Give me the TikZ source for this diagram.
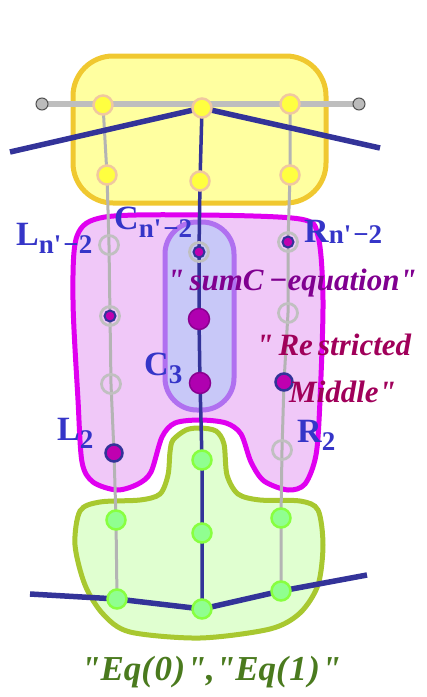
\documentclass[tikz,border=0pt]{standalone}
\usepackage{fontspec}
\setmainfont{Liberation Serif}
\newfontfamily\lserif{Liberation Serif}
\pgfdeclarelayer{blobs}
\pgfdeclarelayer{lines}
\pgfsetlayers{blobs,lines,main}
\definecolor{yelfill}{HTML}{FFFFA0}
\definecolor{yeledge}{HTML}{F0C830}
\definecolor{magfill}{HTML}{F0C8F8}
\definecolor{magedge}{HTML}{E000F0}
\definecolor{pillfill}{HTML}{C8C8F8}
\definecolor{pilledge}{HTML}{B070F0}
\definecolor{grnfill}{HTML}{E0FFD0}
\definecolor{grnedge}{HTML}{A8C830}
\definecolor{navy}{HTML}{333399}
\definecolor{lgray}{HTML}{B4B4B4}
\definecolor{bargray}{HTML}{BEBEBE}
\definecolor{lblblue}{HTML}{3535C8}
\definecolor{sumpurple}{HTML}{800090}
\definecolor{restred}{HTML}{A0005A}
\definecolor{eqgreen}{HTML}{4A7A1E}
\tikzset{
  blobY/.style={draw=yeledge, fill=yelfill, line width=5pt},
  blobM/.style={draw=magedge, fill=magfill, line width=5pt},
  blobP/.style={draw=pilledge, fill=pillfill, line width=5pt},
  blobG/.style={draw=grnedge, fill=grnfill, line width=5pt},
  graybar/.style={draw=bargray, line width=6pt},
  grayline/.style={draw=lgray, line width=3pt},
  blueline/.style={draw=navy, line width=5.5pt},
  bluethin/.style={draw=navy, line width=3.5pt},
  yel/.style={circle, inner sep=0pt, minimum size=19pt, fill={rgb,255:red,255;green,255;blue,64}, draw={rgb,255:red,240;green,200;blue,160}, line width=2.5pt},
  grn/.style={circle, inner sep=0pt, minimum size=19pt, fill={rgb,255:red,144;green,255;blue,144}, draw={rgb,255:red,136;green,255;blue,64}, line width=2.5pt},
  ring/.style={circle, inner sep=0pt, minimum size=19pt, draw={rgb,255:red,192;green,192;blue,192}, line width=2.8pt},
  mdot/.style={circle, inner sep=0pt, minimum size=11pt, fill={rgb,255:red,192;green,0;blue,176}, draw=navy, line width=2pt},
  mdotb/.style={circle, inner sep=0pt, minimum size=17pt, fill={rgb,255:red,192;green,0;blue,176}, draw=navy, line width=2.5pt},
  mbig/.style={circle, inner sep=0pt, minimum size=21pt, fill={rgb,255:red,176;green,0;blue,176}, draw={rgb,255:red,138;green,0;blue,144}, line width=1.5pt},
  endc/.style={circle, inner sep=0pt, minimum size=12pt, fill={rgb,255:red,187;green,187;blue,187}, draw={rgb,255:red,80;green,80;blue,80}, line width=1pt},
  lbl/.style={text=lblblue, font=\lserif\bfseries, inner sep=0pt, anchor=base west},
  quote/.style={font=\lserif\bfseries\itshape\fontsize{31}{33}\selectfont, inner sep=0pt, anchor=base west}
}
\newcommand{\mainlet}[1]{{\fontsize{34}{34}\selectfont #1}}
\newcommand{\sublet}[2][-8pt]{\raisebox{#1}{\fontsize{27}{27}\selectfont #2}}
\begin{document}
\begin{tikzpicture}[x=1pt,y=-1pt]
\useasboundingbox (0,0) rectangle (427,697);
% ---- nodes ----
\node[endc] (e1) at (42,104) {};
\node[endc] (e2) at (359,104) {};
\node[yel] (y1) at (103,105) {};
\node[yel] (y2) at (202,108) {};
\node[yel] (y3) at (290,104) {};
\node[yel] (y4) at (107,175) {};
\node[yel] (y5) at (200,181) {};
\node[yel] (y6) at (290,175) {};
% left column
\node[ring] (l1) at (109,245) {};
\node[ring] (l2) at (110,316) {};
\node[mdot] (l2d) at (110,316) {};
\node[ring] (l3) at (111,384) {};
\node[mdotb] (l4) at (114,453) {};
% center column
\node[ring] (c1) at (199,252) {};
\node[mdot] (c1d) at (199,252) {};
\node[mbig] (c2) at (199,319) {};
\node[mbig] (c3) at (200,383) {};
% right column
\node[ring] (r1) at (288,242) {};
\node[mdot] (r1d) at (288,242) {};
\node[ring] (r2) at (288,313) {};
\node[mdotb] (r3) at (284,382) {};
\node[ring] (r4) at (282,450) {};
% green
\node[grn] (g1) at (202,460) {};
\node[grn] (g2) at (116,520) {};
\node[grn] (g3) at (202,533) {};
\node[grn] (g4) at (281,518) {};
\node[grn] (g5) at (117,599) {};
\node[grn] (g6) at (202,609) {};
\node[grn] (g7) at (281,591) {};
\coordinate (tl) at (10,152);
\coordinate (tr) at (380,148);
\coordinate (bl) at (30,594);
\coordinate (br) at (367,575);
% ---- blobs ----
\begin{pgfonlayer}{blobs}
\draw[blobY, rounded corners=40pt] (73,56) rectangle (326,203);
\draw[blobM] plot[smooth cycle, tension=0.5] coordinates {(77,236) (105,217) (200,215) (300,219) (318,236) (323,300) (320,400) (316,455) (305,484) (288,490) (264,481) (251,462) (241,434) (226,423) (200,420) (175,423) (162,437) (151,472) (138,484) (117,490) (93,482) (82,462) (78,400) (73,300)};
\draw[blobP, rounded corners=32pt] (165,222) rectangle (234,410);
\draw[blobG] plot[smooth cycle, tension=0.5] coordinates {(173,440) (186,430) (200,428) (216,431) (224,444) (227,475) (238,494) (260,500) (300,501) (318,510) (323,545) (318,585) (300,613) (270,629) (200,638) (130,632) (103,614) (85,585) (75,545) (80,511) (100,502) (140,500) (160,494) (168,475) (170,452)};
\end{pgfonlayer}
% ---- lines ----
\begin{pgfonlayer}{lines}
\draw[graybar] (e1.center) -- (e2.center);
\draw[grayline] (y1.center) -- (y4.center) -- (l1.center) -- (l2.center) -- (l3.center) -- (l4.center) -- (g2.center) -- (g5.center);
\draw[grayline] (y3.center) -- (y6.center) -- (r1.center) -- (r2.center) -- (r3.center) -- (r4.center) -- (g4.center) -- (g7.center);
\draw[blueline] (tl) -- (y2.center) -- (tr);
\draw[bluethin] (y2.center) -- (y5.center) -- (c1.center) -- (c2.center) -- (c3.center) -- (g1.center) -- (g3.center) -- (g6.center);
\draw[blueline] (bl) -- (g5.center) -- (g6.center) -- (g7.center) -- (br);
\end{pgfonlayer}
% ---- labels ----
\node[lbl] (tLn) at (16,245) {\mainlet{L}\sublet{n'\kern2pt−2}};
\node[lbl] (tCn) at (114,229) {\mainlet{C}\sublet{n'\kern2pt−2}};
\node[lbl] (tRn) at (304,242) {\mainlet{R}\sublet[-1pt]{n'\kern2pt−2}};
\node[lbl] (tC3) at (144,375) {\mainlet{C}\sublet{3}};
\node[lbl] (tL2) at (57,440) {\mainlet{L}\sublet{2}};
\node[lbl] (tR2) at (297,442) {\mainlet{R}\sublet{2}};
\node[quote, text=sumpurple] (tsum) at (167,290) {"\,sumC\,−equation"};
\node[quote, text=restred] (tres) at (256,355) {"\,Re\,stricted};
\node[quote, text=restred] (tmid) at (289,402) {Middle"};
\node[quote, text=eqgreen, font=\lserif\bfseries\itshape\fontsize{35}{37}\selectfont] (teq) at (81,680) {"Eq(\kern1.5pt 0\kern1.5pt)\kern1.5pt",\kern1pt"Eq(\kern1.5pt 1\kern1.5pt)\kern1.5pt"};
\end{tikzpicture}
\end{document}
